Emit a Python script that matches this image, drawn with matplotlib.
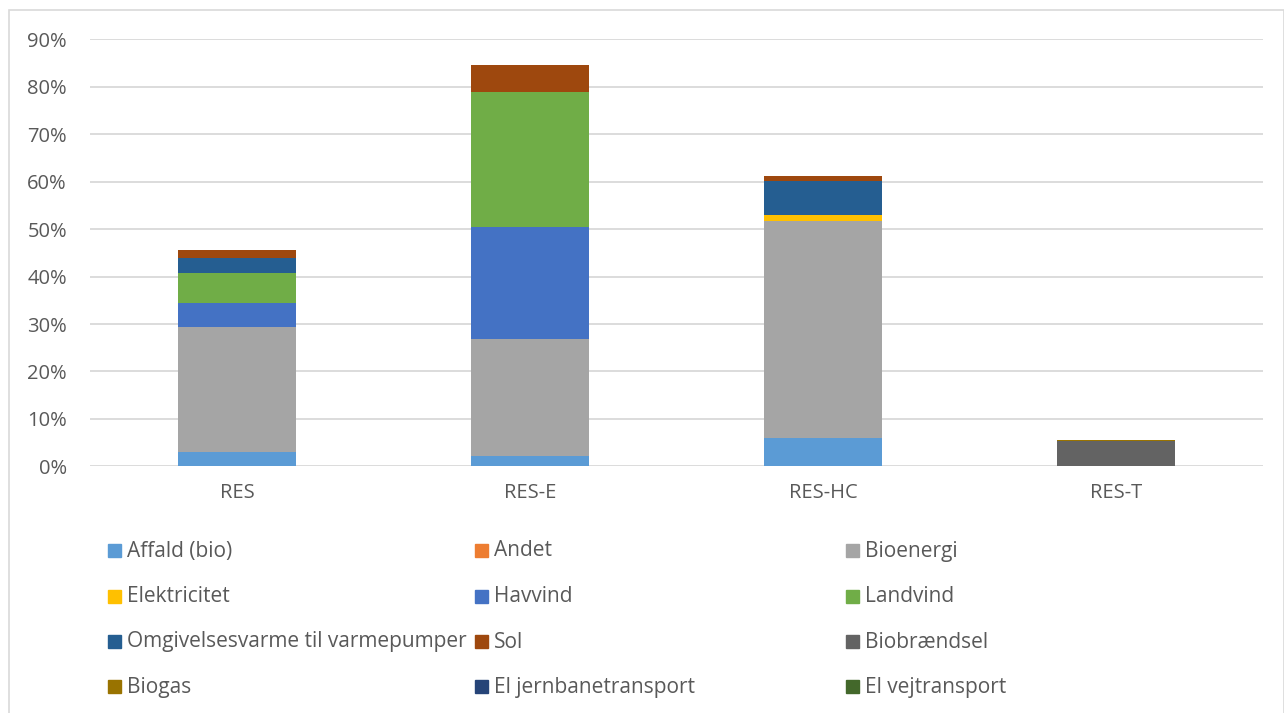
import numpy as np
import matplotlib.pyplot as plt
from matplotlib.patches import Rectangle

plt.rcParams['font.family'] = ['Open Sans', 'DejaVu Sans']

categories = ['RES', 'RES-E', 'RES-HC', 'RES-T']

# andele i procent
affald = [3.0, 2.2, 5.9, 0.0]
andet = [0.0, 0.0, 0.0, 0.0]
bioenergi = [26.3, 24.6, 45.9, 0.0]
elektricitet = [0.0, 0.0, 1.2, 0.0]
havvind = [5.1, 23.6, 0.0, 0.0]
landvind = [6.4, 28.5, 0.0, 0.0]
omgivelsesvarme = [3.1, 0.0, 7.1, 0.0]
sol = [1.7, 5.6, 1.0, 0.0]
biobraendsel = [0.0, 0.0, 0.0, 5.4]
biogas = [0.0, 0.0, 0.0, 0.2]
el_jernbane = [0.0, 0.0, 0.0, 0.0]
el_vej = [0.0, 0.0, 0.0, 0.0]

series = [
    ('Affald (bio)', affald, '#5B9BD5'),
    ('Andet', andet, '#ED7D31'),
    ('Bioenergi', bioenergi, '#A5A5A5'),
    ('Elektricitet', elektricitet, '#FFC000'),
    ('Havvind', havvind, '#4472C4'),
    ('Landvind', landvind, '#70AD47'),
    ('Omgivelsesvarme til varmepumper', omgivelsesvarme, '#255E91'),
    ('Sol', sol, '#9E480E'),
    ('Biobrændsel', biobraendsel, '#636363'),
    ('Biogas', biogas, '#997300'),
    ('El jernbanetransport', el_jernbane, '#264478'),
    ('El vejtransport', el_vej, '#43682B'),
]

W, H = 1284, 713
fig = plt.figure(figsize=(W / 100, H / 100), dpi=100)
ax = fig.add_axes([90.5 / W, 1 - 466.4 / H, (1262.5 - 90.5) / W, (466.4 - 39.3) / H])

x = np.arange(len(categories))
bottom = np.zeros(len(categories))
for name, vals, col in series:
    vals = np.array(vals)
    ax.bar(x, vals, 0.4, bottom=bottom, color=col, edgecolor='none', zorder=3)
    bottom += vals

ax.set_xlim(-0.5, 3.5)
ax.set_ylim(0, 90)
ax.set_yticks(np.arange(0, 91, 10))
ax.set_yticklabels([f'{v}%' for v in range(0, 91, 10)])
ax.set_xticks(x)
ax.set_xticklabels(categories)
ax.grid(axis='y', color='#D9D9D9', linewidth=1.3, zorder=0)
for s in ax.spines.values():
    s.set_visible(False)
ax.tick_params(length=0, colors='#595959')
ax.tick_params(axis='y', pad=17, labelsize=14.5)
ax.tick_params(axis='x', pad=12, labelsize=14.5)

# legende, tre kolonner, række for række
col_x = [108, 475, 846]
row_y = [550, 596, 641, 686]
for i, (name, vals, col) in enumerate(series):
    cx = col_x[i % 3]
    cy = row_y[i // 3]
    fig.add_artist(Rectangle((cx / W, 1 - (cy + 6.5) / H), 13 / W, 13 / H,
                             transform=fig.transFigure, color=col))
    fig.text((cx + 19) / W, 1 - (cy + 1) / H, name, fontsize=15, color='#595959',
             va='center', ha='left')

# ramme om diagrammet
fig.add_artist(Rectangle((9 / W, -0.01), (W - 9) / W, 1 - 10 / H + 0.01,
                         transform=fig.transFigure, fill=False,
                         edgecolor='#D9D9D9', linewidth=1.2))

fig.savefig('out.png', dpi=100)
